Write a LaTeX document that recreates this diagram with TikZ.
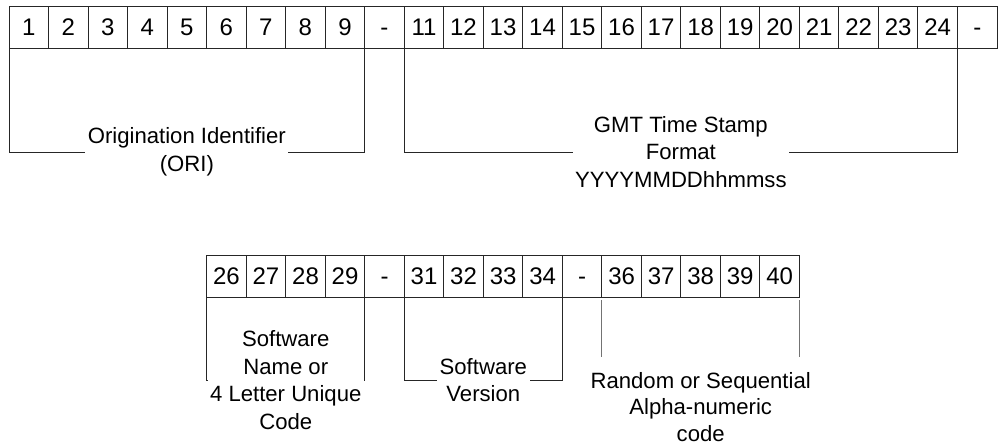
\documentclass[tikz,border=0pt]{standalone}
\usepackage{fontspec}
\setmainfont{Liberation Sans}
\usetikzlibrary{calc}
\begin{document}
\begin{tikzpicture}[x=0.75pt,y=-0.75pt,
  cell/.style={draw=black!85, line width=0.75pt, fill=white, minimum width=29.64pt, minimum height=31.5pt, inner sep=0pt, outer sep=0pt, text height=12.9pt, text depth=0pt, font=\fontsize{18}{20}\selectfont},
  bracket/.style={draw=black!85, line width=0.75pt},
  lbl/.style={fill=white, align=center, inner xsep=1.9pt, inner ysep=0pt, font=\fontsize{16.6}{20.6}\selectfont},
  plainlbl/.style={align=center, inner sep=0pt, font=\fontsize{16.6}{19.6}\selectfont},
  tick/.style={draw=black!55, line width=0.75pt}]
\useasboundingbox (0,0) rectangle (1002,443);
\fill[white] (0,0) rectangle (1002,443);
% top row
\foreach \lab [count=\i] in {1,2,3,4,5,6,7,8,9,-,11,12,13,14,15,16,17,18,19,20,21,22,23,24,-}
  \node[cell] (t\i) at ({9+(\i-0.5)*39.52},27) {\lab};
% bottom row
\foreach \lab [count=\i] in {26,27,28,29,-,31,32,33,34,-,36,37,38,39,40}
  \node[cell] (b\i) at ({206.7+(\i-0.5)*39.52},276) {\lab};
% brackets top
\draw[bracket] (t1.south west) -- ++(0,104) -| (t9.south east);
\node[lbl] (ori) at ($(t1.south west)!0.5!(t9.south east)+(0,104)$) {Origination Identifier\\(ORI)};
\draw[bracket] (t11.south west) -- ++(0,104) -| (t24.south east);
\node[lbl] (gmt) at ($(t11.south west)!0.5!(t24.south east)+(0,104)$) {GMT Time Stamp\\Format\\YYYYMMDDhhmmss};
% brackets bottom
\draw[bracket] (b1.south west) -- ++(0,83) -| (b4.south east);
\node[lbl] (swn) at ($(b1.south west)!0.5!(b4.south east)+(0,83)$) {Software\\Name or\\4 Letter Unique\\Code};
\draw[bracket] (b6.south west) -- ++(0,83) -| (b9.south east);
\node[lbl] (swv) at ($(b6.south west)!0.5!(b9.south east)+(0,83)$) {Software\\Version};
\coordinate (r1) at ($(b11.south west)+(0,60)$);
\coordinate (r2) at ($(b15.south east)+(0,60)$);
\draw[tick] ($(b11.south west)+(0,3)$) -- (r1);
\draw[tick] ($(b15.south east)+(0,3)$) -- (r2);
\node[plainlbl] (rnd) at ($(b11.south west)!0.5!(b15.south east)+(0,110)$) {Random or Sequential\\Alpha-numeric\\code};
\end{tikzpicture}
\end{document}
